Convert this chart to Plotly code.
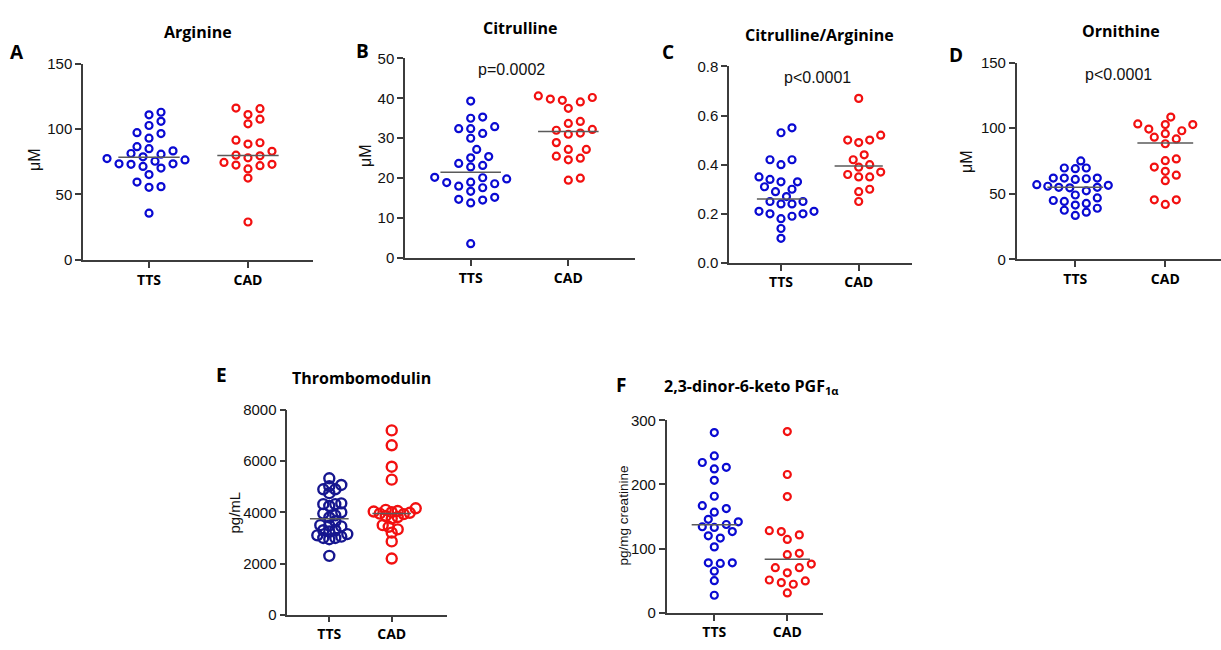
import numpy as np
import plotly.graph_objects as go

# ---------------- data ----------------
groups = ["TTS", "CAD"]

arginine_tts = [35.7, 55.5, 56, 59.5, 65.2, 70.2, 71.4, 73, 73.4, 73.4, 75.4, 76.4, 77.4,
                78.8, 80.8, 81.3, 83.3, 85, 86.5, 93, 96.5, 97.2, 102.7, 105.9, 110.8, 112.8]
arginine_cad = [29, 62.5, 69.5, 72, 72.5, 73, 74.5, 78, 79.5, 80, 83, 88.5, 89.5, 91.5,
                104, 107.5, 111, 115.5, 116]
arginine_median = [78.4, 79.8]

citrulline_tts = [3.6, 13.8, 14.5, 14.7, 15.2, 16.7, 17.6, 18.0, 18.6, 18.9, 19.0, 19.8, 20.1,
                  20.2, 22.8, 23.2, 23.7, 25.1, 25.4, 27.2, 30.0, 31.2, 32.4, 32.4, 32.9,
                  35.0, 35.3, 39.3]
citrulline_cad = [19.5, 20.0, 24.6, 25.0, 25.5, 27.2, 27.2, 28.9, 31.0, 31.3, 32.0, 32.2,
                  33.7, 34.2, 37.5, 39.1, 39.5, 39.8, 40.2, 40.6]
citrulline_median = [21.5, 31.7]

ratio_tts = [0.10, 0.14, 0.18, 0.19, 0.20, 0.20, 0.21, 0.21, 0.24, 0.24, 0.25, 0.25, 0.27,
             0.29, 0.30, 0.31, 0.33, 0.33, 0.34, 0.35, 0.40, 0.42, 0.42, 0.53, 0.55]
ratio_cad = [0.25, 0.29, 0.30, 0.35, 0.35, 0.36, 0.37, 0.39, 0.40, 0.42, 0.44, 0.49, 0.50,
             0.50, 0.52, 0.67]
ratio_median = [0.26, 0.395]

ornithine_tts = [33.4, 35.9, 37.4, 38.9, 41.3, 42.6, 44.1, 44.8, 46.8, 49.0, 52.2, 54.5, 54.9,
                 54.9, 55.7, 56.4, 56.9, 60.9, 61.4, 61.9, 61.9, 61.9, 69.1, 69.6, 69.6, 75.0]
ornithine_cad = [41.8, 45.3, 45.3, 59.9, 64.1, 67.1, 70.3, 75.2, 76.5, 88.1, 91.8, 93.1,
                 95.8, 98.0, 99.3, 102.7, 102.7, 103.2, 108.4]
ornithine_median = [55.0, 88.6]

thrombo_tts = [2300, 2950, 3000, 3000, 3050, 3100, 3150, 3250, 3300, 3300, 3450, 3480, 3500,
               3650, 3800, 3880, 3950, 4000, 4250, 4320, 4320, 4350, 4750, 4900, 4900, 5020,
               5070, 5330]
thrombo_cad = [2195, 2864, 3207, 3336, 3435, 3500, 3755, 3816, 3854, 3930, 3950, 3983, 4006,
               4032, 4050, 4097, 4158, 5276, 5782, 6619, 7201]
thrombo_median = [3753, 3950]

pgf_tts = [27.3, 50.1, 64.8, 76.9, 77.9, 77.9, 102.7, 116.4, 119.9, 126.5, 133.0, 134.1,
           137.6, 141.7, 145.7, 156.8, 162.4, 166.9, 181.6, 206.4, 224.1, 226.6, 234.2,
           244.4, 280.8]
pgf_cad = [30.9, 44.5, 47.0, 49.6, 51.1, 62.2, 70.3, 70.3, 75.9, 90.6, 92.6, 114.3, 121.4,
           126.5, 128.0, 181.1, 215.5, 282.3]
pgf_median = [137.1, 83.5]

# ---------------- styling / layout ----------------
W, H = 1221, 650
BLUE = "#0a0ad2"
NAVY = "#16168f"
RED = "#f21010"
AXIS = "#3c3c3c"
MEDIAN = "#5a5a5a"
TICKFONT = dict(family="Liberation Sans, Arial", size=15, color="#111")
XTICKFONT = dict(family="Open Sans", size=14, color="#000")
TITLEFONT = dict(family="Open Sans", size=16, color="#000")


def swarm(values, px_per_y, px_per_x, half_step_px, dmin_px):
    """Beeswarm layout on a half-step grid: each point (ascending) goes to the
    grid slot nearest the centre that does not collide with placed points."""
    v = np.asarray(values, dtype=float)
    order = np.argsort(v, kind="stable")
    placed = []
    offs = np.zeros(len(v))
    cands = [0]
    for m in range(1, 14):
        cands += [m, -m]
    for i in order:
        y = v[i] * px_per_y
        for m in cands:
            x = m * half_step_px
            if all((x - px) ** 2 + (y - py) ** 2 >= dmin_px ** 2 for px, py in placed):
                break
        placed.append((x, y))
        offs[i] = x / px_per_x
    return offs


panels = [
    dict(tts=arginine_tts, cad=arginine_cad, med=arginine_median, box=(83, 313, 56, 257.7),
         yr=[0, 150], dtick=50, xr=[-0.667, 1.657], c=BLUE, ms=7, hs=6, dmin=9.2, fmt=""),
    dict(tts=citrulline_tts, cad=citrulline_cad, med=citrulline_median, box=(405, 635, 50.7, 255.7),
         yr=[0, 50], dtick=10, xr=[-0.673, 1.683], c=BLUE, ms=7, hs=6, dmin=9.2, fmt=""),
    dict(tts=ratio_tts, cad=ratio_cad, med=ratio_median, box=(729, 911.7, 59, 260.7),
         yr=[0, 0.8], dtick=0.2, xr=[-0.669, 1.682], c=BLUE, ms=7, hs=5.5, dmin=9, fmt=".1f"),
    dict(tts=ornithine_tts, cad=ornithine_cad, med=ornithine_median, box=(1016.7, 1221, 55, 257),
         yr=[0, 150], dtick=50, xr=[-0.651, 1.619], c=BLUE, ms=7, hs=5.5, dmin=9, fmt=""),
    dict(tts=thrombo_tts, cad=thrombo_cad, med=thrombo_median, box=(287.3, 446.7, 411.7, 622),
         yr=[0, 8000], dtick=2000, xr=[-0.673, 1.881], c=NAVY, ms=10, hs=3, dmin=6, fmt=""),
    dict(tts=pgf_tts, cad=pgf_cad, med=pgf_median, box=(666.7, 823, 422.3, 620),
         yr=[0, 300], dtick=100, xr=[-0.652, 1.489], c=BLUE, ms=7, hs=6, dmin=9.2, fmt=""),
]

fig = go.Figure()
layout = dict(width=W, height=H, margin=dict(l=0, r=0, t=0, b=0),
              paper_bgcolor="white", plot_bgcolor="white", showlegend=False)
shapes = []

for i, p in enumerate(panels):
    k = "" if i == 0 else str(i + 1)
    x0, x1, yt, yb = p["box"]
    px_per_x = (x1 - x0) / (p["xr"][1] - p["xr"][0])
    px_per_y = (yb - yt) / (p["yr"][1] - p["yr"][0])
    for gi, (vals, col) in enumerate([(p["tts"], p["c"]), (p["cad"], RED)]):
        offs = swarm(vals, px_per_y, px_per_x, p["hs"], p["dmin"])
        fig.add_trace(go.Scatter(
            x=gi + offs, y=vals, mode="markers", xaxis="x" + k, yaxis="y" + k,
            marker=dict(symbol="circle-open", size=p["ms"], color=col,
                        line=dict(width=2.2 if i != 4 else 2.4, color=col)),
            hoverinfo="y"))
        shapes.append(dict(type="line", xref="x" + k, yref="y" + k,
                           x0=gi - 0.31, x1=gi + 0.31, y0=p["med"][gi], y1=p["med"][gi],
                           line=dict(color=MEDIAN, width=1.5), layer="above"))
    layout["xaxis" + k] = dict(
        domain=[x0 / W, x1 / W], range=p["xr"], anchor="y" + k,
        tickmode="array", tickvals=[0, 1], ticktext=["<b>%s</b>" % g for g in groups],
        showline=True, linecolor=AXIS, linewidth=1.5, ticks="outside", ticklen=6,
        tickcolor=AXIS, tickwidth=1.5, tickfont=XTICKFONT, showgrid=False, zeroline=False,
        fixedrange=True)
    layout["yaxis" + k] = dict(
        domain=[1 - yb / H, 1 - yt / H], range=p["yr"], anchor="x" + k,
        tickmode="linear", tick0=0, dtick=p["dtick"], tickformat=p["fmt"],
        showline=True, linecolor=AXIS, linewidth=1.5, ticks="outside", ticklen=6,
        tickcolor=AXIS, tickwidth=1.5, tickfont=TICKFONT, showgrid=False, zeroline=False,
        fixedrange=True)

layout["shapes"] = shapes


def ann(text, x, y, font, angle=0, xanchor="center"):
    return dict(text=text, x=x / W, y=1 - y / H, xref="paper", yref="paper",
                showarrow=False, font=font, textangle=angle, xanchor=xanchor, yanchor="middle")


LETTER = dict(family="Open Sans", size=19, color="#000")
PFONT = dict(family="Liberation Sans, Arial", size=16, color="#111")
YT = dict(family="Liberation Sans, Arial", size=16, color="#111")

annotations = [
    ann("<b>A</b>", 17, 44, LETTER), ann("<b>Arginine</b>", 198, 24, TITLEFONT),
    ann("<b>B</b>", 362, 43, LETTER), ann("<b>Citrulline</b>", 520, 20, TITLEFONT),
    ann("<b>C</b>", 668, 44, LETTER), ann("<b>Citrulline/Arginine</b>", 819, 27, TITLEFONT),
    ann("<b>D</b>", 956, 47, LETTER), ann("<b>Ornithine</b>", 1121, 23, TITLEFONT),
    ann("<b>E</b>", 221, 376, LETTER), ann("<b>Thrombomodulin</b>", 361, 379, TITLEFONT),
    ann("<b>F</b>", 621, 386, LETTER),
    ann("<b>2,3-dinor-6-keto PGF<sub>1α</sub></b>", 751, 388, TITLEFONT),
    ann("p=0.0002", 511, 62, PFONT),
    ann("p<0.0001", 817, 70, PFONT),
    ann("p<0.0001", 1118, 67, PFONT),
    ann("μM", 35, 155, YT, -90),
    ann("μM", 365, 150, YT, -90),
    ann("μM", 967, 156, YT, -90),
    ann("pg/mL", 234, 517, dict(family="Liberation Sans, Arial", size=15, color="#111"), -90),
    ann("pg/mg creatinine", 623, 520, dict(family="Liberation Sans, Arial", size=13.5, color="#111"), -90),
]
layout["annotations"] = annotations

fig.update_layout(**layout)
fig.write_html("out.html", config={"displayModeBar": False})
